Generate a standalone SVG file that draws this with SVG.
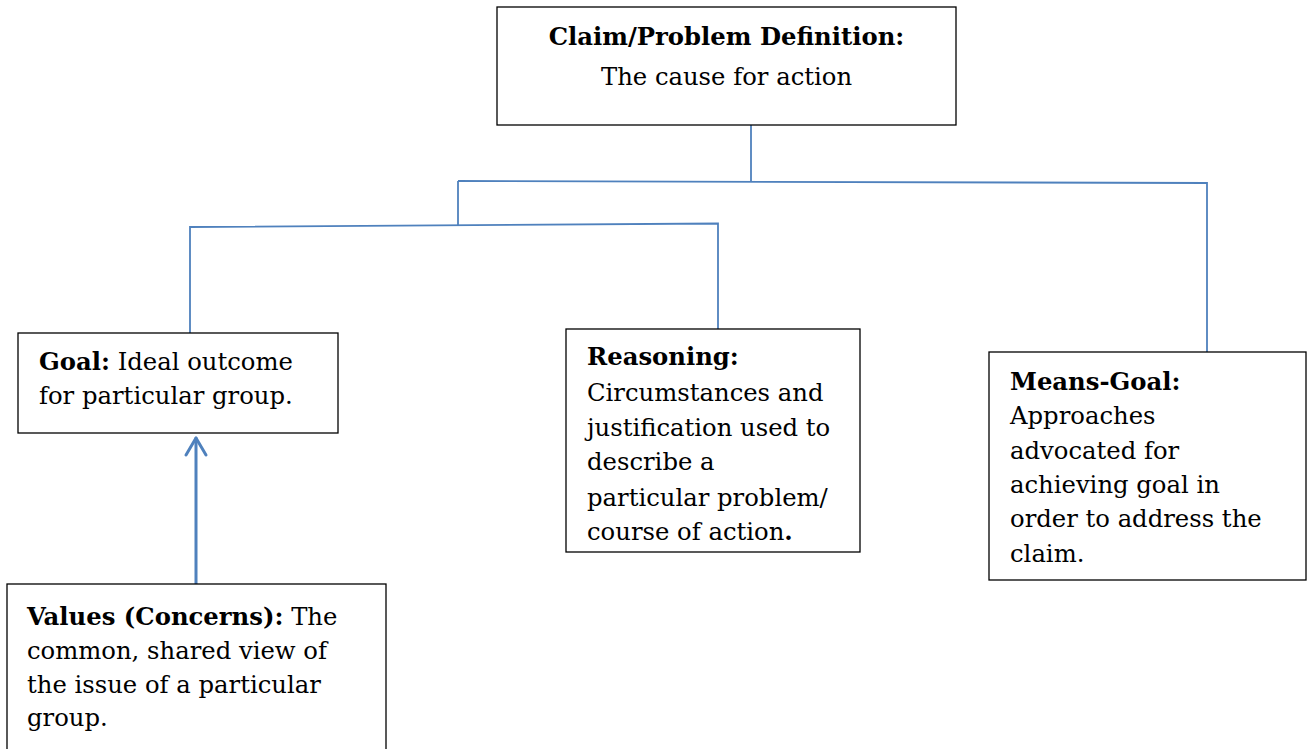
<svg xmlns="http://www.w3.org/2000/svg" width="1307" height="749" viewBox="0 0 1307 749">
<style>
.box{fill:#fff;stroke:#000;stroke-width:1.3}
.t{font-family:"DejaVu Serif","Liberation Serif",serif;font-size:24.3px;fill:#000}
.b{font-weight:bold}
.c{fill:none;stroke:#4f81bd;stroke-width:1.8}
.a{fill:none;stroke:#4f81bd;stroke-width:3;stroke-linecap:round;stroke-linejoin:round}
</style>
<rect width="1307" height="749" fill="#fff"/>
<g id="connectors">
<polyline class="c" points="751,125 751,182"/>
<polyline class="c" points="458,181 1207,183 1207,352"/>
<polyline class="c" points="458,181 458,225"/>
<polyline class="c" points="190,333 190,227 718,223.5 718,329"/>
<line class="a" x1="196" y1="584" x2="196" y2="438"/>
<polyline class="a" points="186,455 196,438 206,455"/>
</g>
<g id="claim">
<rect class="box" x="497" y="7" width="459" height="118"/>
<text class="t" text-anchor="middle"><tspan class="b" x="726.5" y="45">Claim/Problem Definition:</tspan><tspan x="726.5" y="85">The cause for action</tspan></text>
</g>
<g id="goal">
<rect class="box" x="18" y="333" width="320" height="100"/>
<text class="t"><tspan x="39" y="370"><tspan class="b">Goal:</tspan> Ideal outcome</tspan><tspan x="39" y="404">for particular group.</tspan></text>
</g>
<g id="reasoning">
<rect class="box" x="566" y="329" width="294" height="223"/>
<text class="t"><tspan class="b" x="587" y="365">Reasoning:</tspan><tspan x="587" y="401">Circumstances and</tspan><tspan x="587" y="436">justification used to</tspan><tspan x="587" y="470">describe a</tspan><tspan x="587" y="506">particular problem/</tspan><tspan x="587" y="540">course of action<tspan class="b">.</tspan></tspan></text>
</g>
<g id="means">
<rect class="box" x="989" y="352" width="317" height="228"/>
<text class="t"><tspan class="b" x="1010" y="390">Means-Goal:</tspan><tspan x="1010" y="424">Approaches</tspan><tspan x="1010" y="459">advocated for</tspan><tspan x="1010" y="493">achieving goal in</tspan><tspan x="1010" y="527">order to address the</tspan><tspan x="1010" y="562">claim.</tspan></text>
</g>
<g id="values">
<rect class="box" x="7" y="584" width="379" height="180"/>
<text class="t"><tspan x="27" y="625"><tspan class="b">Values (Concerns):</tspan> The</tspan><tspan x="27" y="659">common, shared view of</tspan><tspan x="27" y="693">the issue of a particular</tspan><tspan x="27" y="726">group.</tspan></text>
</g>
</svg>
